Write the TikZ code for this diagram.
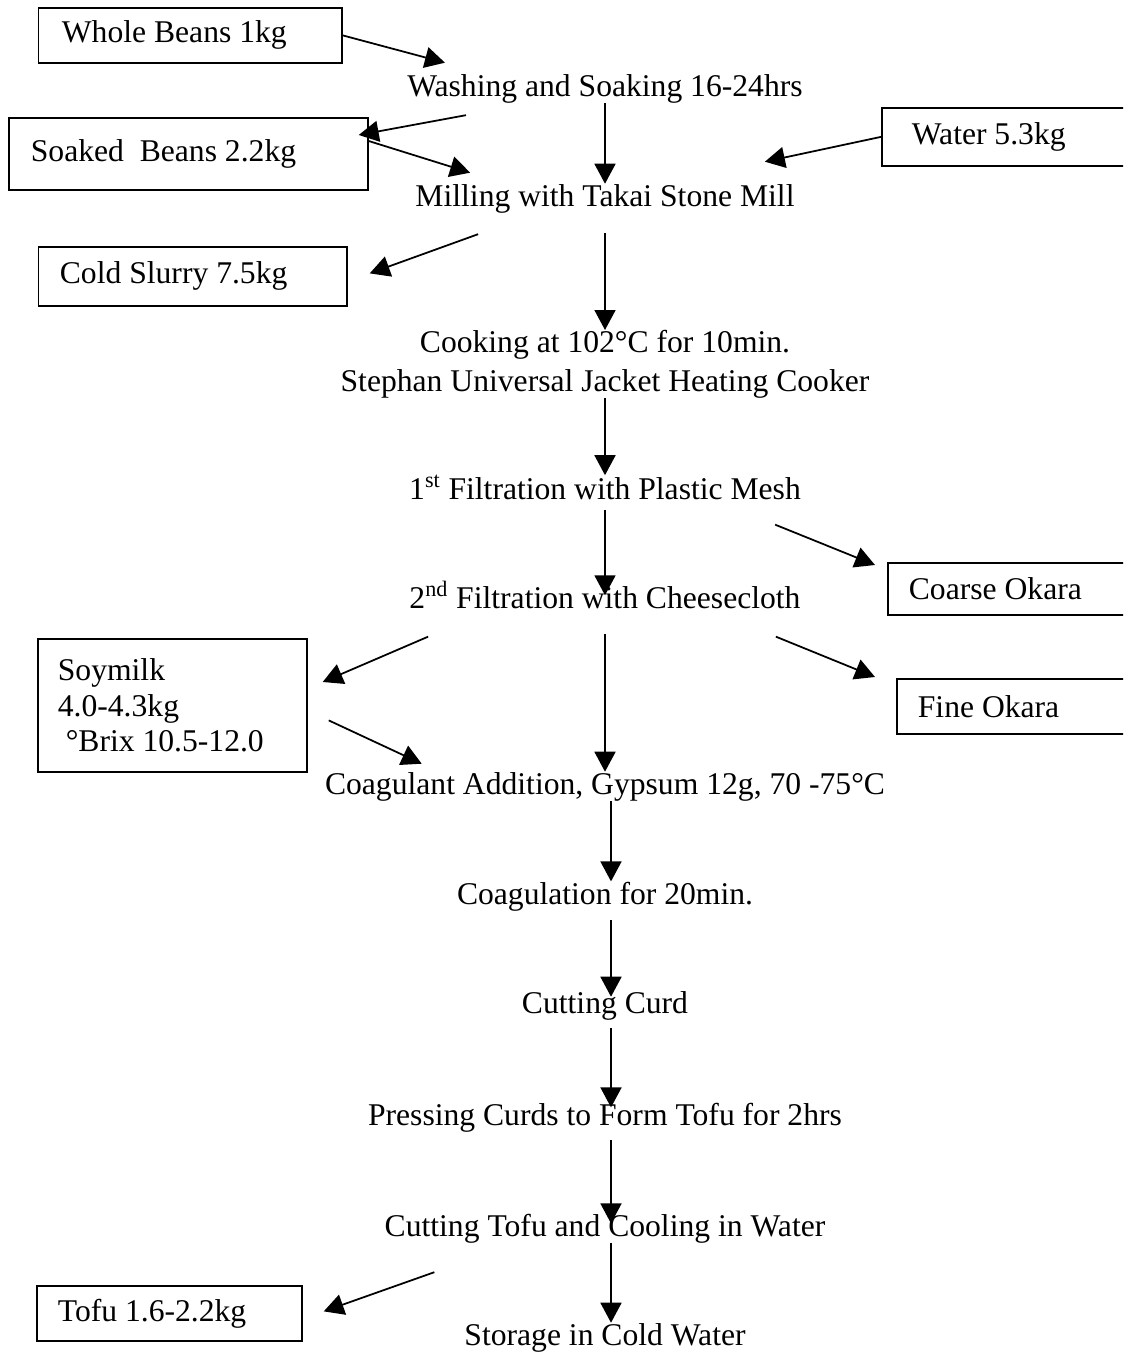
\documentclass[tikz,border=0pt]{standalone}
\usepackage{fontspec}
\setmainfont{Liberation Serif}
\usetikzlibrary{arrows.meta,calc}
\tikzset{
  flow/.style={->, line width=1pt, draw=black, >={Triangle[length=0.4cm, width=0.42cm]}},
  stage/.style={font=\fontsize{18}{22}\selectfont, inner sep=0pt, anchor=base},
  stock/.style={draw=black, line width=1pt, font=\fontsize{18}{20}\selectfont, anchor=north west, align=flush left, inner ysep=0pt, inner xsep=0.42cm}
}

\begin{document}
\begin{tikzpicture}[x=0.02cm, y=-0.02cm]
  \path[use as bounding box, clip] (0,0) rectangle (1123,1352);

  % main process line
  \node[stage] (wash) at (605,96) {Washing and Soaking 16-24hrs};
  \node[stage] (mill) at (605,206) {Milling with Takai Stone Mill};
  \node[stage, anchor=north, align=center] (cook) at (605,330) {Cooking at 102°C for 10min.\\Stephan Universal Jacket Heating Cooker};
  \node[stage] (filt1) at (605,499) {1\textsuperscript{st} Filtration with Plastic Mesh};
  \node[stage] (filt2) at (605,608) {2\textsuperscript{nd} Filtration with Cheesecloth};
  \node[stage] (coag) at (605,794) {Coagulant Addition, Gypsum 12g, 70 -75°C};
  \node[stage] (coagtime) at (605,904) {Coagulation for 20min.};
  \node[stage] (cutcurd) at (605,1013) {Cutting Curd};
  \node[stage] (press) at (605,1125) {Pressing Curds to Form Tofu for 2hrs};
  \node[stage] (cuttofu) at (605,1236) {Cutting Tofu and Cooling in Water};
  \node[stage] (store) at (605,1345) {Storage in Cold Water};

  % inputs and outputs
  \node[stock, text width=5.13cm, inner xsep=0.47cm, minimum height=1.1cm] (beans) at (37.5,7) {Whole Beans 1kg};
  \node[stock, text width=6.30cm, inner xsep=0.44cm, minimum height=1.44cm] (soaked) at (8,117) {Soaked~ Beans 2.2kg};
  \node[stock, text width=4.18cm, inner xsep=0.6cm, minimum height=1.16cm] (water) at (881,107) {Water 5.3kg};
  \node[stock, text width=5.31cm, inner xsep=0.43cm, minimum height=1.18cm] (slurry) at (37.5,246) {Cold Slurry 7.5kg};
  \node[stock, text width=4.42cm, minimum height=1.04cm] (coarse) at (887,562) {Coarse Okara};
  \node[stock, text width=4.24cm, minimum height=1.1cm] (fine) at (896,678) {Fine Okara};
  \node[stock, text width=4.58cm, inner xsep=0.4cm, minimum height=2.66cm] (soymilk) at (37,638) {Soymilk\\4.0-4.3kg\\\hspace*{0.25em}°Brix 10.5-12.0};
  \node[stock, text width=4.46cm, minimum height=1.1cm] (tofu) at (36,1285) {Tofu 1.6-2.2kg};

  \draw[flow] (wash.south) -- (mill.north);
  \draw[flow, shorten <=0.4cm] (mill.south) -- (cook.north);
  \draw[flow] (cook.south) -- (filt1.north);
  \draw[flow, shorten <=0.2cm, shorten >=-0.28cm] (filt1.south) -- (filt2.north);
  \draw[flow, shorten <=0.5cm] (filt2.south) -- (coag.north);
  \draw[flow] ([xshift=0.12cm]coag.south) -- ([xshift=0.12cm]coagtime.north);
  \draw[flow, shorten <=0.18cm, shorten >=-0.12cm] ([xshift=0.12cm]coagtime.south) -- ([xshift=0.12cm]cutcurd.north);
  \draw[flow, shorten <=0.16cm, shorten >=-0.1cm] ([xshift=0.12cm]cutcurd.south) -- ([xshift=0.12cm]press.north);
  \draw[flow, shorten <=0.16cm, shorten >=-0.2cm] ([xshift=0.12cm]press.south) -- ([xshift=0.12cm]cuttofu.north);
  \draw[flow] ([xshift=0.12cm]cuttofu.south) -- ([xshift=0.12cm]store.north);

  \draw[flow] (beans.east) -- ($(wash.north west)+(38,-11)$);
  \draw[flow] ($(wash.south west)+(59,12)$) -- ($(soaked.north east)+(-10,18)$);
  \draw[flow] ($(soaked.north east)+(0,24)$) -- ($(mill.north west)+(55,-11)$);
  \draw[flow] (water.west) -- ($(mill.north east)+(-30,-22)$);
  \draw[flow] ($(mill.south west)+(63,21)$) -- ($(slurry.east)+(22,-3)$);
  \draw[flow] ($(filt1.south east)+(-26,25)$) -- ($(coarse.north west)+(-12,3)$);
  \draw[flow] ($(filt2.south east)+(-25,28)$) -- ($(fine.north west)+(-21,-1)$);
  \draw[flow] ($(filt2.south west)+(19,28)$) -- ($(soymilk.north east)+(15,44)$);
  \draw[flow] ($(soymilk.east)+(21,15)$) -- ($(coag.north west)+(97,-8)$);
  \draw[flow] ($(cuttofu.south west)+(50,29)$) -- ($(tofu.east)+(21,-2)$);
\end{tikzpicture}
\end{document}
